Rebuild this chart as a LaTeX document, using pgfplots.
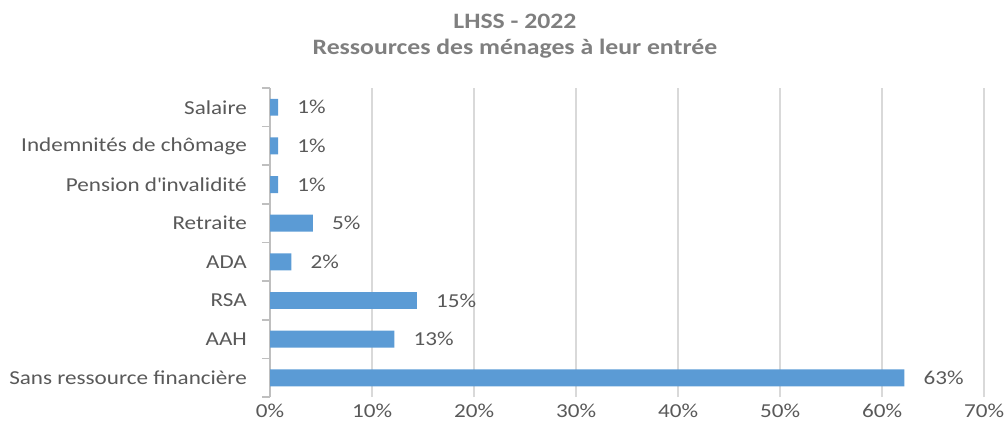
\documentclass[border=0pt]{standalone}
\usepackage{fontspec}
\setmainfont{Carlito}[FakeStretch=1.17]
\usepackage{pgfplots}
\pgfplotsset{compat=1.18}
\definecolor{barblue}{HTML}{5B9BD5}
\definecolor{txtgray}{HTML}{595959}
\definecolor{ttlgray}{HTML}{7F7F7F}
\definecolor{gridgray}{HTML}{D9D9D9}
\definecolor{axgray}{HTML}{BFBFBF}
\begin{document}
\begin{tikzpicture}
\begin{axis}[
  scale only axis,
  width=354pt, height=153.3pt,
  xbar, bar width=8.4pt,
  xmin=0, xmax=70,
  ymin=-0.5, ymax=7.5,
  xtick={0,10,...,70},
  xticklabel={\pgfmathprintnumber{\tick}\%},
  /pgf/number format/assume math mode=true,
  ytick={0,...,7},
  yticklabels={Sans ressource financière, AAH, RSA, ADA, Retraite,
    Pension d\textquotesingle invalidité, Indemnités de chômage, Salaire},
  minor ytick={-0.5,0.5,...,7.5},
  axis y line*=left,
  axis x line*=bottom,
  x axis line style={draw=none},
  y axis line style={draw=axgray, line width=1pt},
  xmajorgrids,
  major grid style={draw=gridgray, line width=1pt},
  major tick length=0pt,
  minor tick length=4pt,
  minor tick style={draw=axgray, line width=0.8pt},
  tick align=outside,
  tick label style={font=\fontsize{9.8}{12}\selectfont, text=txtgray},
  yticklabel style={xshift=-8pt},
  title={LHSS - 2022\\Ressources des ménages à leur entrée},
  title style={font=\bfseries\fontsize{10.9}{13}\selectfont, text=ttlgray,
    align=center, at={(0.343,1)}, anchor=south, yshift=5pt},
  point meta=explicit symbolic,
  nodes near coords,
  nodes near coords style={font=\fontsize{9.8}{12}\selectfont, text=txtgray,
    anchor=west, xshift=6pt},
]
\addplot[fill=barblue, draw=none] coordinates {
  (62.2,0) [63\%]
  (12.2,1) [13\%]
  (14.4,2) [15\%]
  (2.1,3)  [2\%]
  (4.2,4)  [5\%]
  (0.8,5)  [1\%]
  (0.8,6)  [1\%]
  (0.8,7)  [1\%]
};
\end{axis}
\path (current axis.south west) ++(-133.9pt,-16.4pt) coordinate (bl);
\path (current axis.north east) ++(9.9pt,43.6pt) coordinate (tr);
\pgfresetboundingbox
\useasboundingbox (bl) rectangle (tr);
\end{tikzpicture}
\end{document}
